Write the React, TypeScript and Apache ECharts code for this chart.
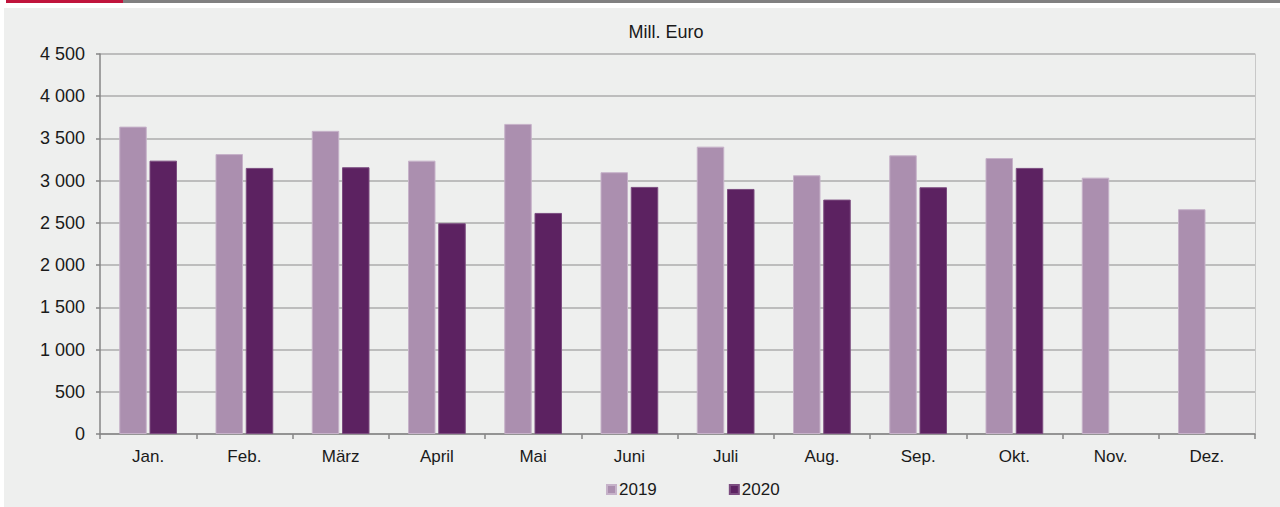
import React, { useEffect, useRef } from "react";
import * as echarts from "echarts";

const categories = ["Jan.", "Feb.", "März", "April", "Mai", "Juni", "Juli", "Aug.", "Sep.", "Okt.", "Nov.", "Dez."];
const values2019 = [3640, 3315, 3590, 3237, 3672, 3100, 3403, 3064, 3300, 3268, 3036, 2662];
const values2020: (number | null)[] = [3237, 3151, 3159, 2496, 2618, 2926, 2902, 2776, 2922, 3151, null, null];
const seriesNames = ["2019", "2020"];
const yTicks = { min: 0, max: 4500, interval: 500 };
const unitLabel = "Mill. Euro";

const fmt = (v: number) => {
  const s = String(Math.round(v));
  return s.replace(/\B(?=(\d{3})+(?!\d))/g, " ");
};

export default function App() {
  const ref = useRef<HTMLDivElement>(null);
  useEffect(() => {
    if (!ref.current) return;
    const chart = echarts.init(ref.current, undefined, { renderer: "svg" });
    const font = "'Liberation Sans', Arial, sans-serif";
    chart.setOption({
      animation: false,
      backgroundColor: "#ffffff",
      textStyle: { fontFamily: font },
      graphic: [
        { type: "rect", shape: { x: 4, y: 8, width: 1276, height: 499 }, style: { fill: "#eeefee" }, z: -10 },
        { type: "rect", shape: { x: 6, y: 0, width: 117, height: 3 }, style: { fill: "#c0143c" } },
        { type: "rect", shape: { x: 123, y: 0, width: 1157, height: 3 }, style: { fill: "#808080" } },
        {
          type: "text",
          x: 666,
          y: 32,
          style: { text: unitLabel, fontSize: 18, fontFamily: font, fill: "#1a1a1a", textAlign: "center", textVerticalAlign: "middle" },
        },
      ],
      grid: { left: 100, right: 25, top: 54, bottom: 73, containLabel: false },
      legend: {
        data: seriesNames,
        left: 601,
        top: 476,
        itemWidth: 9,
        itemHeight: 9,
        itemGap: 72,
        icon: "rect",
        textStyle: { fontSize: 17, color: "#1a1a1a", fontFamily: font, padding: [0, 0, 0, -2] },
      },
      xAxis: {
        type: "category",
        data: categories,
        boundaryGap: true,
        axisLine: { show: true, lineStyle: { color: "#868686", width: 1.5 } },
        axisTick: { show: true, interval: 0, length: 5, alignWithLabel: false, lineStyle: { color: "#868686", width: 1.5 } },
        axisLabel: { fontSize: 17, color: "#1a1a1a", margin: 14, interval: 0, fontFamily: font },
      },
      yAxis: [
        {
          type: "value",
          min: yTicks.min,
          max: yTicks.max,
          interval: yTicks.interval,
          axisLine: { show: true, lineStyle: { color: "#868686", width: 1.5 } },
          axisTick: { show: true, length: 4, lineStyle: { color: "#868686", width: 1.5 } },
          axisLabel: { fontSize: 18, color: "#1a1a1a", margin: 15, formatter: fmt, fontFamily: font },
          splitLine: { show: true, lineStyle: { color: "#bdbdbd", width: 2 } },
        },
        {
          type: "value",
          position: "right",
          min: yTicks.min,
          max: yTicks.max,
          interval: yTicks.interval,
          axisLine: { show: true, lineStyle: { color: "#c8c8c8", width: 1 } },
          axisTick: { show: false },
          axisLabel: { show: false },
          splitLine: { show: false },
        },
      ],
      series: [
        {
          name: seriesNames[0],
          type: "bar",
          data: values2019,
          barCategoryGap: "40%",
          barGap: "10%",
          itemStyle: { color: "#ab8faf", borderColor: "#c6b2c9", borderWidth: 1 },
        },
        {
          name: seriesNames[1],
          type: "bar",
          data: values2020,
          barCategoryGap: "40%",
          barGap: "10%",
          itemStyle: { color: "#5c2261", borderColor: "#7c4d80", borderWidth: 1 },
        },
      ],
    });
    return () => chart.dispose();
  }, []);
  return <div ref={ref} style={{ position: "fixed", left: 0, top: 0, width: 1280, height: 507 }} />;
}
